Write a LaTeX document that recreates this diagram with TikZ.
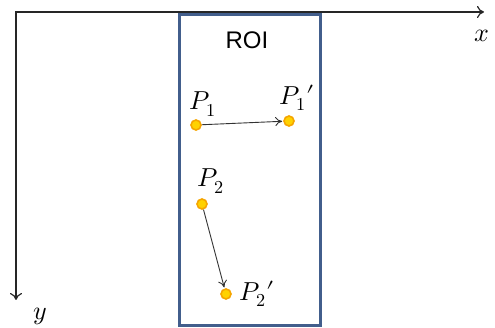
\documentclass[tikz,border=0pt]{standalone}
\usepackage{fontspec}
\usepackage{unicode-math}
\setmathfont{Latin Modern Math}
\setsansfont{Liberation Sans}
\usetikzlibrary{arrows.meta}
\definecolor{roiblue}{RGB}{66,94,140}
\definecolor{dotfill}{RGB}{255,210,0}
\definecolor{dotline}{RGB}{245,165,0}
\tikzset{
  pt/.style={circle, fill=dotfill, draw=dotline, line width=1.6pt, inner sep=0pt, minimum size=10pt},
  lbl/.style={font=\fontsize{26}{30}\selectfont},
  move/.style={-{To[length=7pt,width=9pt]}, line width=0.9pt, draw=black!80, shorten >=1pt},
  axis/.style={line width=1.2pt, draw=black!85},
}
\begin{document}
\begin{tikzpicture}[x=1pt,y=-1pt]
\useasboundingbox (0,0) rectangle (495,328);

% Axes
\coordinate (o) at (16,12);
\coordinate (xend) at (484,12);
\coordinate (yend) at (16,300);
\draw[axis, {To[length=7pt,width=12pt]}-{To[length=7pt,width=12pt]}] (xend) -- (o) -- (yend);
\node[lbl] (xlbl) at (482,36) {$x$};
\node[lbl] (ylbl) at (40,316) {$y$};

% ROI box
\draw[roiblue, line width=3pt] (179,15) rectangle (320,326);
\node[font=\sffamily\fontsize{24}{28}\selectfont] (roilbl) at (247,40) {ROI};

% Points
\node[pt] (p1) at (196,125) {};
\node[pt] (q1) at (289,121) {};
\node[pt] (p2) at (202,204) {};
\node[pt] (q2) at (226,294) {};

% Labels
\node[lbl] (p1lbl) at (203,104) {$P_1$};
\node[lbl] (q1lbl) at (297,98) {$P_1\prime$};
\node[lbl] (p2lbl) at (211,181) {$P_2$};
\node[lbl] (q2lbl) at (257,294) {$P_2\prime$};

% Motion
\draw[move] (p1) -- (q1);
\draw[move] (p2) -- (q2);
\end{tikzpicture}
\end{document}
